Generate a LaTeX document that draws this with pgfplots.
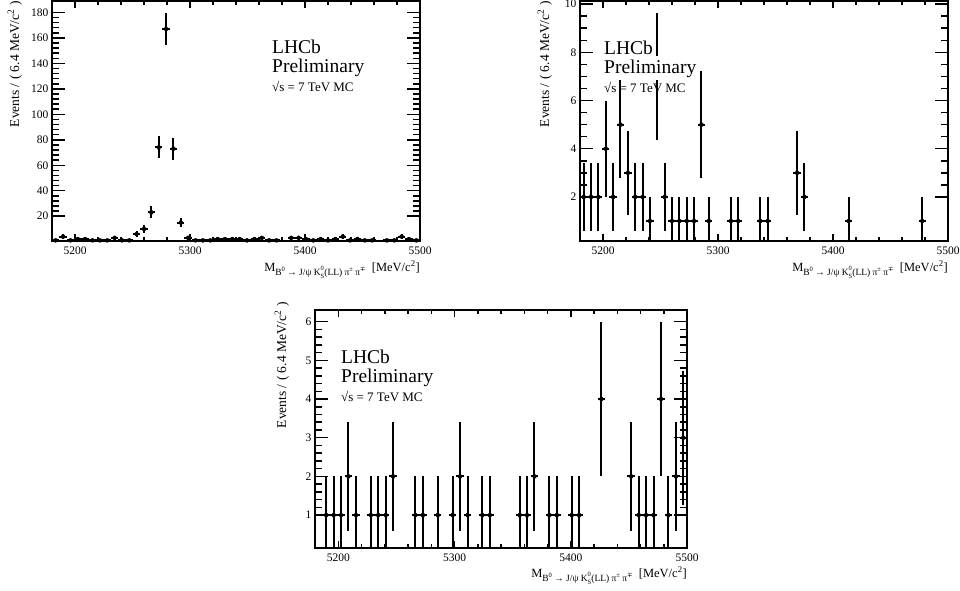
\documentclass[border=0pt]{standalone}
\usepackage{fontspec}
\setmainfont{Liberation Serif}
\newfontfamily\djv{DejaVu Serif}
\usepackage{pgfplots}
\pgfplotsset{compat=1.18}
\pgfplotsset{
  rootbase/.style={
    scale only axis,
    xmin=5180, xmax=5500,
    axis line style={line width=2pt},
    tick style={line width=1.5pt, black},
    /pgf/number format/assume math mode=true,
    /pgf/number format/1000 sep={},
    ticklabel style={font=\fontsize{11.5}{13}\selectfont},
    tick align=inside,
  },
  rootA/.style={rootbase,
    xtick=\empty,
    major tick length=13pt, minor tick length=7pt,
  },
  rootB/.style={rootbase,
    ytick=\empty,
    xtick={5200,5300,5400,5500},
    minor x tick num=4,
    major tick length=7pt, minor tick length=4pt,
    x tick label style={yshift=-2pt},
  },
  dataplot/.style={only marks, mark=none, black,
    error bars/.cd, x dir=both, x explicit, y dir=both, y explicit,
    error mark=none, error bar style={line width=2pt, black}},
}
\newcommand{\sub}[1]{{\fontsize{6.5}{7}\selectfont #1}}
\newcommand{\xtitle}{M\raisebox{-4pt}{\fontsize{9.5}{10}\selectfont B\raisebox{3.5pt}{\sub{0}} → J/ψ K\raisebox{-3pt}{\fontsize{6.5}{7}\selectfont\shortstack[l]{0\\S}}(LL) π\raisebox{3.5pt}{\sub{±}} π\raisebox{3.5pt}{\sub{\djv ∓}}}\ \ [MeV/c\textsuperscript{2}]}
\newcommand{\ytitle}{Events / ( 6.4 MeV/c\textsuperscript{2} )}
\newcommand{\lhcb}[2]{%
  \node[anchor=base west, inner sep=1.5pt, fill=white, font=\fontsize{19.5}{22}\selectfont] at (#1-1.5pt,#2) {LHCb};
  \node[anchor=base west, inner sep=3pt, fill=white, font=\fontsize{19.5}{22}\selectfont] at (#1-3pt,#2-19pt) {Preliminary};
  \node[anchor=base west, inner sep=0pt, font=\fontsize{13}{15}\selectfont] at (#1,#2-38pt) {√s = 7 TeV MC};
}
\begin{document}
\begin{tikzpicture}
\useasboundingbox (0pt,0pt) rectangle (960pt,-590pt);
% ---------------- panel 1 ----------------
\begin{axis}[rootA, at={(52pt,-241pt)}, anchor=south west, width=368pt, height=240pt,
  ymin=0.5, ymax=189, ytick={20,40,...,180}, minor y tick num=4]
\addplot[dataplot] table[x=x, y=y, x error=ex, y error=ey] {
x y ex ey
5183.2 1 3.2 1
5189.6 4 3.2 2
5196.0 1 3.2 1
5202.4 2 3.2 1.414
5208.8 2 3.2 1.414
5215.2 1 3.2 1
5221.6 1 3.2 1
5228.0 1 3.2 1
5234.4 3 3.2 1.732
5240.8 1 3.2 1
5247.2 1 3.2 1
5253.6 6 3.2 2.449
5260.0 10 3.2 3.162
5266.4 23 3.2 4.796
5272.8 74 3.2 8.602
5279.2 167 3.2 12.923
5285.6 73 3.2 8.544
5292.0 15 3.2 3.873
5298.4 3 3.2 1.732
5304.8 1 3.2 1
5311.2 1 3.2 1
5317.6 1 3.2 1
5324.0 2 3.2 1.414
5330.4 2 3.2 1.414
5336.8 2 3.2 1.414
5343.2 2 3.2 1.414
5349.6 1 3.2 1
5356.0 2 3.2 1.414
5362.4 3 3.2 1.732
5368.8 1 3.2 1
5375.2 1 3.2 1
5388.0 3 3.2 1.732
5394.4 3 3.2 1.732
5400.8 2 3.2 1.414
5407.2 1 3.2 1
5413.6 2 3.2 1.414
5420.0 1 3.2 1
5426.4 2 3.2 1.414
5432.8 4 3.2 2
5439.2 1 3.2 1
5445.6 2 3.2 1.414
5452.0 1 3.2 1
5458.4 1 3.2 1
5471.2 1 3.2 1
5477.6 1 3.2 1
5484.0 4 3.2 2
5490.4 2 3.2 1.414
5496.8 1 3.2 1
};
\end{axis}
\begin{axis}[rootB, at={(52pt,-241pt)}, anchor=south west, width=368pt, height=240pt,
  ymin=0.5, ymax=189]
\end{axis}
% ---------------- panel 2 ----------------
\begin{axis}[rootA, at={(580pt,-241pt)}, anchor=south west, width=368pt, height=240pt,
  ymin=0.17, ymax=10.13, ytick={2,4,6,8,10}, minor y tick num=3]
\addplot[dataplot] table[x=x, y=y, x error=ex, y error=ey] {
x y ex ey
5183.2 2 3.2 1.414
5189.6 2 3.2 1.414
5196.0 2 3.2 1.414
5202.4 4 3.2 2
5208.8 2 3.2 1.414
5215.2 5 3.2 2.236
5221.6 3 3.2 1.732
5228.0 2 3.2 1.414
5234.4 2 3.2 1.414
5240.8 1 3.2 1
5247.2 7 3.2 2.646
5253.6 2 3.2 1.414
5260.0 1 3.2 1
5266.4 1 3.2 1
5272.8 1 3.2 1
5279.2 1 3.2 1
5285.6 5 3.2 2.236
5292.0 1 3.2 1
5311.2 1 3.2 1
5317.6 1 3.2 1
5336.8 1 3.2 1
5343.2 1 3.2 1
5368.8 3 3.2 1.732
5375.2 2 3.2 1.414
5413.6 1 3.2 1
5477.6 1 3.2 1
};
\end{axis}
\begin{axis}[rootB, at={(580pt,-241pt)}, anchor=south west, width=368pt, height=240pt,
  ymin=0.17, ymax=10.13]
\end{axis}
% ---------------- panel 3 ----------------
\begin{axis}[rootA, at={(315pt,-548pt)}, anchor=south west, width=372pt, height=238pt,
  ymin=0.15, ymax=6.3, ytick={1,2,3,4,5,6}, minor y tick num=4]
\addplot[dataplot] table[x=x, y=y, x error=ex, y error=ey] {
x y ex ey
5189.6 1 3.2 1
5196.0 1 3.2 1
5202.4 1 3.2 1
5208.8 2 3.2 1.414
5215.2 1 3.2 1
5228.0 1 3.2 1
5234.4 1 3.2 1
5240.8 1 3.2 1
5247.2 2 3.2 1.414
5266.4 1 3.2 1
5272.8 1 3.2 1
5285.6 1 3.2 1
5298.4 1 3.2 1
5304.8 2 3.2 1.414
5311.2 1 3.2 1
5324.0 1 3.2 1
5330.4 1 3.2 1
5356.0 1 3.2 1
5362.4 1 3.2 1
5368.8 2 3.2 1.414
5381.6 1 3.2 1
5388.0 1 3.2 1
5400.8 1 3.2 1
5407.2 1 3.2 1
5426.4 4 3.2 2
5452.0 2 3.2 1.414
5458.4 1 3.2 1
5464.8 1 3.2 1
5471.2 1 3.2 1
5477.6 4 3.2 2
5484.0 1 3.2 1
5490.4 2 3.2 1.414
5496.8 3 3.2 1.732
};
\end{axis}
\begin{axis}[rootB, at={(315pt,-548pt)}, anchor=south west, width=372pt, height=238pt,
  ymin=0.15, ymax=6.3]
\end{axis}
% ---------------- texts ----------------
\lhcb{272pt}{-53pt}
\lhcb{604pt}{-54pt}
\lhcb{341pt}{-363pt}
\node[rotate=90, anchor=base east, inner sep=0pt, font=\fontsize{13.5}{15}\selectfont] at (19pt,-1pt) {\ytitle};
\node[rotate=90, anchor=base east, inner sep=0pt, font=\fontsize{13.5}{15}\selectfont] at (549pt,-1pt) {\ytitle};
\node[rotate=90, anchor=base east, inner sep=0pt, font=\fontsize{13.5}{15}\selectfont] at (286pt,-302pt) {\ytitle};
\node[anchor=base east, inner sep=0pt, font=\fontsize{12.5}{14}\selectfont] at (420pt,-271pt) {\xtitle};
\node[anchor=base east, inner sep=0pt, font=\fontsize{12.5}{14}\selectfont] at (948pt,-271pt) {\xtitle};
\node[anchor=base east, inner sep=0pt, font=\fontsize{12.5}{14}\selectfont] at (687pt,-577pt) {\xtitle};
\end{tikzpicture}
\end{document}
